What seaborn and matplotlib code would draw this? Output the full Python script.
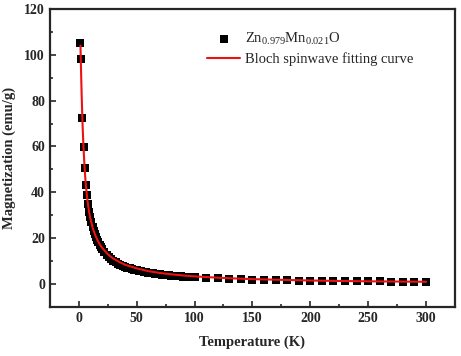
import matplotlib
matplotlib.use("Agg")
import matplotlib.pyplot as plt
import seaborn as sns
import pandas as pd
from matplotlib.ticker import MultipleLocator

temperature = [1.5, 2.3, 3.1, 4.2, 5, 6, 7, 8, 9, 10, 11, 12, 13, 14, 15, 16, 17, 18, 19, 20,
               22, 24, 26, 28, 30, 32, 34, 36, 38, 40, 42, 44, 46, 48, 50, 52, 54, 56, 58, 60,
               62, 64, 66, 68, 70, 72, 74, 76, 78, 80, 82, 84, 86, 88, 90, 92, 94, 96, 98, 100,
               110, 120, 130, 140, 150, 160, 170, 180, 190, 200, 210, 220, 230, 240, 250, 260,
               270, 280, 290, 300]
magnetization = [105, 98.3, 72.6, 59.6, 50.6, 43.1, 38.6, 34.7, 31.5, 29, 27, 25, 23.3, 21.8, 20.4,
                 19.2, 18.1, 17.1, 16.2, 15.4, 14, 12.8, 11.8, 10.9, 10.2, 9.5, 8.9, 8.4, 7.9, 7.5,
                 7.1, 6.8, 6.5, 6.2, 5.9, 5.7, 5.5, 5.3, 5.1, 4.9, 4.75, 4.6, 4.45, 4.3, 4.2, 4.05,
                 3.95, 3.85, 3.75, 3.65, 3.55, 3.45, 3.35, 3.3, 3.2, 3.15, 3.05, 3.0, 2.95, 2.9,
                 2.6, 2.4, 2.2, 2.0, 1.9, 1.8, 1.7, 1.6, 1.5, 1.45, 1.4, 1.3, 1.25, 1.2, 1.15, 1.1,
                 1.05, 1.0, 1.0, 0.95]

fit_temperature = [1.5, 2, 2.5, 3, 3.5, 4, 5, 6, 7, 8, 9, 10, 12, 14, 16, 18, 20, 25, 30, 35, 40,
                   50, 60, 70, 80, 90, 100, 125, 150, 175, 200, 225, 250, 275, 300]
fit_magnetization = [104, 93, 83, 74.5, 67, 61, 51, 44, 38.8, 34.6, 31.3, 28.6, 24.6, 21.6, 19.3,
                     17.4, 15.9, 13.0, 11.0, 9.6, 8.4, 6.8, 5.6, 4.8, 4.2, 3.7, 3.3, 2.6, 2.1,
                     1.8, 1.5, 1.3, 1.15, 1.05, 0.95]

data_label = r'Zn$_{\mathit{0.979}}$Mn$_{\mathit{0.021}}$O'
fit_label = 'Bloch spinwave fitting curve'
x_label = 'Temperature (K)'
y_label = 'Magnetization (emu/g)'

sns.set_style("ticks")
plt.rcParams['font.family'] = ['Liberation Serif', 'DejaVu Serif']
plt.rcParams['mathtext.fontset'] = 'custom'
plt.rcParams['mathtext.rm'] = 'Liberation Serif'
plt.rcParams['mathtext.it'] = 'Liberation Serif:italic'

df = pd.DataFrame({'T': temperature, 'M': magnetization})
df_fit = pd.DataFrame({'T': fit_temperature, 'M': fit_magnetization})

fig = plt.figure(figsize=(4.61, 3.56), dpi=100)
ax = fig.add_axes([0.108, 0.138, 0.879, 0.837])

sns.scatterplot(data=df, x='T', y='M', marker='s', s=30, color='black', edgecolor='black',
                linewidth=0, ax=ax, label=data_label, zorder=2)
sns.lineplot(data=df_fit, x='T', y='M', color='#ee1111', linewidth=1.5, ax=ax,
             label=fit_label, zorder=3)

ax.set_xlim(-25, 325)
ax.set_ylim(-10, 120)
ax.xaxis.set_major_locator(MultipleLocator(50))
ax.xaxis.set_minor_locator(MultipleLocator(25))
ax.yaxis.set_major_locator(MultipleLocator(20))
ax.yaxis.set_minor_locator(MultipleLocator(10))
ax.tick_params(which='both', direction='in', top=False, right=False, width=1.2,
               labelsize=10)
ax.tick_params(which='major', length=4)
ax.tick_params(which='minor', length=2.5)
for lab in ax.get_xticklabels() + ax.get_yticklabels():
    lab.set_fontweight('bold')
for sp in ax.spines.values():
    sp.set_linewidth(1.6)
    sp.set_visible(True)

ax.set_xlabel(x_label, fontsize=10.5, fontweight='bold', labelpad=8)
ax.set_ylabel(y_label, fontsize=10.5, fontweight='bold', labelpad=6)

leg = ax.legend(loc='upper left', bbox_to_anchor=(0.355, 0.97), frameon=False, fontsize=10.5,
                handlelength=2.3, handletextpad=0.3, labelspacing=0.35)

fig.savefig('out.png', dpi=100)
